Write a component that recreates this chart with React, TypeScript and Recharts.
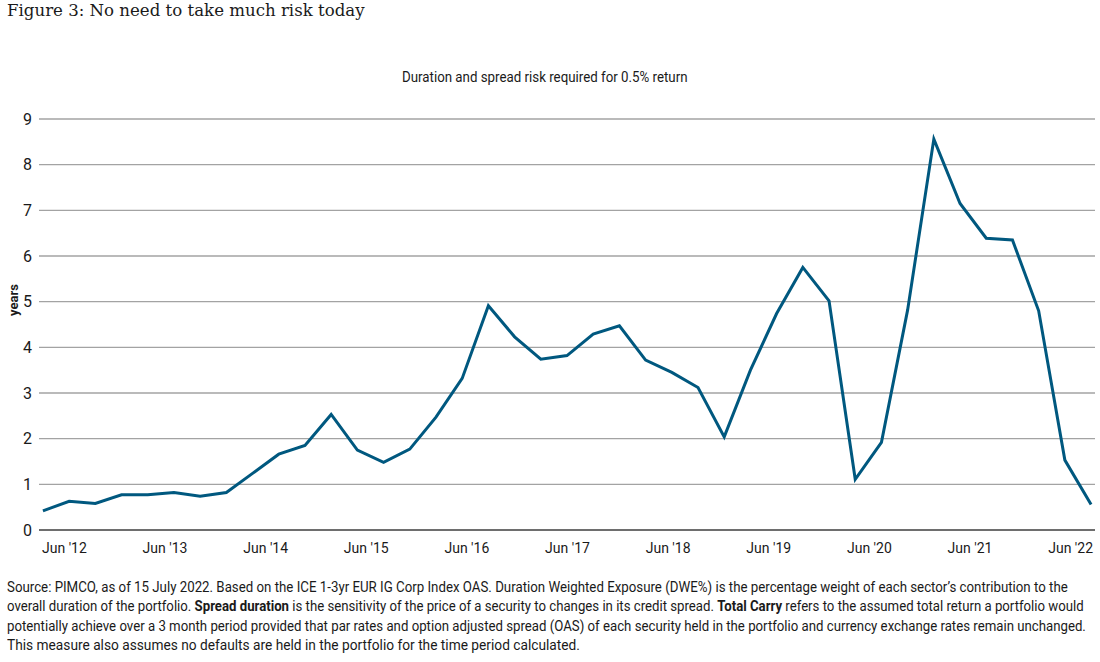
import { useLayoutEffect, useRef, useState } from 'react'
import type { ReactNode } from 'react'
import { LineChart, Line, XAxis, YAxis, CartesianGrid } from 'recharts'

// quarterly readings, Q2 2012 .. Q2 2022 (years of duration + spread risk)
const riskYears = [
  0.42, 0.63, 0.58, 0.77, 0.77, 0.82, 0.74, 0.82, 1.24, 1.66, 1.85, 2.53, 1.75, 1.48, 1.77, 2.47,
  3.32, 4.91, 4.23, 3.74, 3.82, 4.29, 4.47, 3.72, 3.45, 3.12, 2.04, 3.5, 4.74, 5.75, 5.02, 1.11,
  1.92, 4.82, 8.56, 7.15, 6.39, 6.35, 4.8, 1.53, 0.56,
]

const xTickLabels = ["Jun '12", "Jun '13", "Jun '14", "Jun '15", "Jun '16", "Jun '17", "Jun '18", "Jun '19", "Jun '20", "Jun '21", "Jun '22"]
// where each label sits along the point index
const xTickAt = [0.82, 4.66, 8.5, 12.34, 16.18, 20.02, 23.86, 27.7, 31.54, 35.38, 39.22]
const yTicks = [0, 1, 2, 3, 4, 5, 6, 7, 8, 9]

const data = riskYears.map((v, i) => ({ i, v }))

const SANS = 'Roboto, "Noto Sans", sans-serif'
const LINE = '#00587f'
const INK = '#1a1a1a'

// squeeze a line of text to a given width (the original uses a condensed face)
function FitText({ width, children }: { width: number; children: ReactNode }) {
  const ref = useRef<HTMLSpanElement>(null)
  const [k, setK] = useState(1)
  useLayoutEffect(() => {
    const w = ref.current?.offsetWidth
    if (w) setK(width / w)
  }, [width])
  return (
    <span
      ref={ref}
      style={{ display: 'inline-block', whiteSpace: 'nowrap', transform: `scaleX(${k})`, transformOrigin: 'left' }}
    >
      {children}
    </span>
  )
}

const footLines: [ReactNode, number][] = [
  [<>Source: PIMCO, as of 15 July 2022. Based on the ICE 1-3yr EUR IG Corp Index OAS. Duration Weighted Exposure (DWE%) is the percentage weight of each sector’s contribution to the</>, 1061],
  [<>overall duration of the portfolio. <b>Spread duration</b> is the sensitivity of the price of a security to changes in its credit spread. <b>Total Carry</b> refers to the assumed total return a portfolio would</>, 1077],
  [<>potentially achieve over a 3 month period provided that par rates and option adjusted spread (OAS) of each security held in the portfolio and currency exchange rates remain unchanged.</>, 1079],
  [<>This measure also assumes no defaults are held in the portfolio for the time period calculated.</>, 573],
]

export default function App() {
  const tickLabel = (val: number) => {
    const k = xTickAt.indexOf(val)
    return k >= 0 ? xTickLabels[k] : ''
  }

  return (
    <div style={{ position: 'absolute', left: 0, top: 0, width: 1100, height: 662, background: '#fff', color: INK }}>
      <div
        style={{
          position: 'absolute',
          left: 7,
          top: 0,
          fontFamily: '"DejaVu Serif", serif',
          fontSize: 16.6,
          lineHeight: '22px',
          whiteSpace: 'nowrap',
        }}
      >
        Figure 3: No need to take much risk today
      </div>
      <div
        style={{
          position: 'absolute',
          left: 402,
          top: 68,
          fontFamily: SANS,
          fontSize: 14,
          lineHeight: '18px',
        }}
      >
        <FitText width={286}>Duration and spread risk required for 0.5% return</FitText>
      </div>
      <div
        style={{
          position: 'absolute',
          left: 13,
          top: 300,
          transform: 'translate(-50%, -50%) rotate(-90deg)',
          fontFamily: SANS,
          fontSize: 13,
          fontWeight: 700,
        }}
      >
        years
      </div>

      <div style={{ position: 'absolute', left: 0, top: 0 }}>
        <LineChart width={1100} height={570} data={data} margin={{ top: 119, right: 5, bottom: 0, left: 0 }}>
          <CartesianGrid vertical={false} stroke="#a3a3a3" strokeWidth={1.3} />
          <XAxis
            type="number"
            dataKey="i"
            domain={[-0.15, 40.15]}
            ticks={xTickAt}
            interval={0}
            tickFormatter={tickLabel}
            tickLine={false}
            tickSize={0}
            tickMargin={13}
            axisLine={{ stroke: '#6e6e6e', strokeWidth: 2 }}
            tick={{ fontFamily: SANS, fontSize: 14, fill: INK }}
            height={40}
          />
          <YAxis
            domain={[0, 9]}
            ticks={yTicks}
            interval={0}
            width={39}
            axisLine={false}
            tickLine={false}
            tickSize={0}
            tickMargin={7}
            tick={{ fontFamily: SANS, fontSize: 16, fill: INK }}
          />
          <Line
            type="linear"
            dataKey="v"
            stroke={LINE}
            strokeWidth={3}
            dot={false}
            isAnimationActive={false}
          />
        </LineChart>
      </div>

      <div
        style={{
          position: 'absolute',
          left: 7,
          top: 578,
          fontFamily: SANS,
          fontSize: 14,
          lineHeight: '19.3px',
        }}
      >
        {footLines.map(([l, w], k) => (
          <div key={k} style={{ height: 19.3 }}>
            <FitText width={w}>{l}</FitText>
          </div>
        ))}
      </div>
    </div>
  )
}
